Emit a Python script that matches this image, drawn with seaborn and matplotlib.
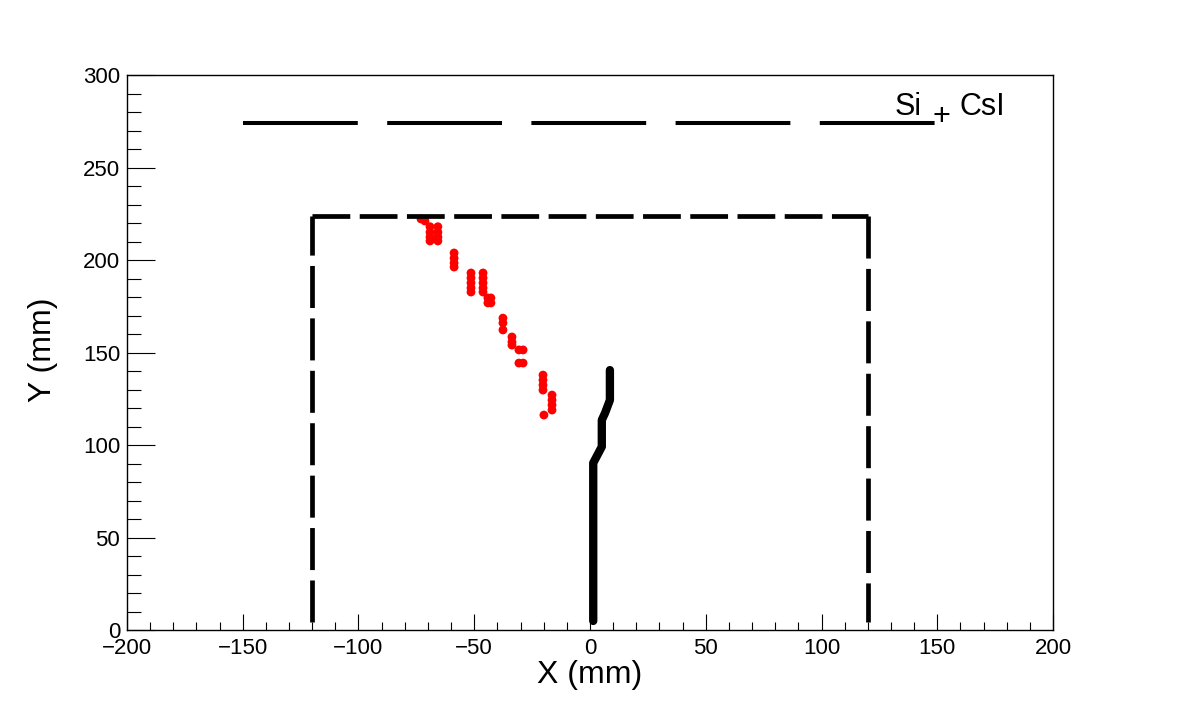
import numpy as np
import pandas as pd
import matplotlib
matplotlib.use('Agg')
import matplotlib.pyplot as plt
import seaborn as sns

sns.set_style('ticks')
plt.rcParams['font.family'] = ['Liberation Sans', 'DejaVu Sans']
plt.rcParams['text.color'] = 'black'
plt.rcParams['xtick.color'] = 'black'
plt.rcParams['ytick.color'] = 'black'
plt.rcParams['axes.labelcolor'] = 'black'

# 红色散点 (mm)
hit_x = [-73.0, -71.3,
         -69.1, -69.1, -69.1, -69.1,
         -65.7, -65.7, -65.7, -65.7,
         -58.7, -58.7, -58.7, -58.7,
         -51.4, -51.4, -51.4, -51.4, -51.4,
         -46.2, -46.2, -46.2, -46.2, -46.2,
         -44.1, -44.1, -42.8, -42.8,
         -37.6, -37.6, -37.6,
         -33.7, -33.7, -33.7,
         -30.7, -28.9, -30.7, -28.9,
         -20.3, -20.3, -20.3, -20.3,
         -16.4, -16.4, -16.4, -16.4,
         -19.9]
hit_y = [222.2, 221.1,
         218.0, 215.0, 212.4, 210.3,
         218.0, 215.0, 212.4, 210.3,
         203.8, 201.0, 198.4, 196.2,
         193.0, 190.3, 187.6, 184.9, 182.7,
         193.0, 190.3, 187.6, 184.9, 182.7,
         179.5, 176.8, 179.5, 176.8,
         168.6, 166.0, 162.2,
         158.4, 155.7, 154.0,
         151.4, 151.4, 144.3, 144.3,
         137.8, 135.1, 132.4, 129.7,
         127.0, 124.3, 121.6, 118.9,
         116.2]

# 黑色径迹
track_x = [1.4, 1.4, 5.1, 5.1, 6.5, 8.6, 8.6]
track_y = [4.9, 90.3, 99.1, 113.5, 117.3, 124.3, 140.5]

# 探测器轮廓
box_left_x, box_left_y = [-120, -120], [4.5, 224]
box_top_x, box_top_y = [-120, 120], [224, 224]
box_right_x, box_right_y = [120, 120], [224, 4.5]
det_x, det_y = [-150, 150], [274, 274]

hits = pd.DataFrame({'x': hit_x, 'y': hit_y})
track = pd.DataFrame({'x': track_x, 'y': track_y})

fig = plt.figure(figsize=(11.82, 7.09), dpi=100)
ax = fig.add_axes([0.1074, 0.1114, 0.7835, 0.7828])

# 轮廓虚线
ax.plot(box_left_x, box_left_y, color='black', lw=3.4, dashes=(8.9, 2.2), dash_capstyle='butt')
ax.plot(box_top_x, box_top_y, color='black', lw=3.4, dashes=(8.0, 2.0), dash_capstyle='butt')
ax.plot(box_right_x, box_right_y, color='black', lw=3.4, dashes=(8.9, 2.2), dash_capstyle='butt')
ax.plot(det_x, det_y, color='black', lw=2.9, dashes=(28.5, 7.3), dash_capstyle='butt')

sns.lineplot(data=track, x='x', y='y', sort=False, estimator=None, color='black',
             lw=6.0, solid_capstyle='round', solid_joinstyle='round', ax=ax)
sns.scatterplot(data=hits, x='x', y='y', color='#ff0000', s=40, edgecolor='none', ax=ax)

ax.text(131.7, 278.4, 'Si', fontsize=22, ha='left', va='baseline')
ax.text(147.8, 273.1, '+', fontsize=22, ha='left', va='baseline')
ax.text(159.6, 278.4, 'CsI', fontsize=22, ha='left', va='baseline')

ax.set_xlim(-200, 200)
ax.set_ylim(0, 300)
ax.set_xticks(np.arange(-200, 201, 50))
ax.set_xticks(np.arange(-200, 201, 10), minor=True)
ax.set_yticks(np.arange(0, 301, 50))
ax.set_yticks(np.arange(0, 301, 10), minor=True)
ax.tick_params(axis='x', which='major', direction='in', length=11.5, width=0.8, labelsize=16, pad=6)
ax.tick_params(axis='x', which='minor', direction='in', length=5.8, width=0.8)
ax.tick_params(axis='y', which='major', direction='in', length=20, width=0.8, labelsize=16, pad=5)
ax.tick_params(axis='y', which='minor', direction='in', length=10, width=0.8)
ax.set_xticklabels([str(v).replace('-', '\u2212') for v in range(-200, 201, 50)])

for s in ax.spines.values():
    s.set_visible(True)
    s.set_linewidth(1.0)
    s.set_color('black')

ax.set_xlabel('')
ax.set_ylabel('')
fig.text(0.499, 0.037, 'X (mm)', fontsize=23, ha='center', va='baseline')
fig.text(0.036, 0.507, 'Y (mm)', fontsize=23, ha='center', va='center', rotation=90)

plt.savefig('out.png', dpi=100)
plt.close()
